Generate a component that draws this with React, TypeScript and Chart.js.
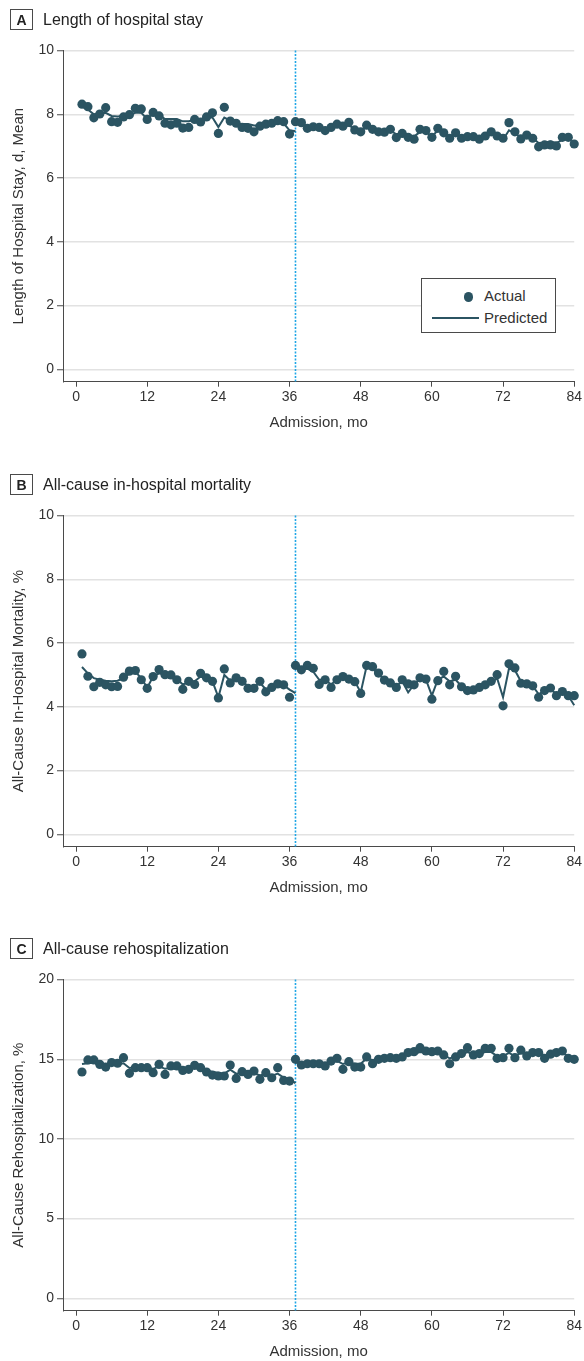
import React, { useEffect, useRef } from "react";
import { Chart, registerables } from "chart.js";

Chart.register(...registerables);

// ---------- data ----------
const MONTHS = Array.from({ length: 84 }, (_, i) => i + 1);
const X_TICKS = [0, 12, 24, 36, 48, 60, 72, 84];
const INTERVENTION_MONTH = 37;

const LOS_ACTUAL = [
  8.32, 8.24, 7.89, 8.01, 8.21, 7.77, 7.75, 7.92, 7.99, 8.19,
  8.17, 7.84, 8.06, 7.95, 7.72, 7.67, 7.72, 7.57, 7.59, 7.84,
  7.76, 7.92, 8.05, 7.4, 8.22, 7.79, 7.72, 7.59, 7.56, 7.45,
  7.63, 7.69, 7.72, 7.8, 7.77, 7.38, 7.77, 7.74, 7.56, 7.61,
  7.59, 7.49, 7.59, 7.69, 7.63, 7.75, 7.51, 7.45, 7.66, 7.53,
  7.45, 7.44, 7.53, 7.27, 7.4, 7.28, 7.22, 7.53, 7.49, 7.28,
  7.56, 7.42, 7.25, 7.42, 7.25, 7.3, 7.3, 7.22, 7.32, 7.45,
  7.32, 7.25, 7.74, 7.45, 7.23, 7.35, 7.25, 6.98, 7.04, 7.04,
  7.01, 7.28, 7.28, 7.07,
];
const LOS_PRED_PRE = [
  8.25, 8.15, 8.0, 8.02, 8.05, 7.95, 7.93, 7.95, 7.98, 8.05,
  8.05, 7.85, 8.05, 7.98, 7.85, 7.85, 7.85, 7.78, 7.78, 7.82,
  7.85, 7.9, 7.9, 7.6, 7.9, 7.8, 7.7, 7.7, 7.7, 7.65,
  7.65, 7.7, 7.72, 7.75, 7.72, 7.5, 7.47,
];
const LOS_PRED_POST = [
  7.78, 7.72, 7.62, 7.62, 7.6, 7.55, 7.58, 7.62, 7.63, 7.65,
  7.55, 7.45, 7.62, 7.55, 7.5, 7.48, 7.48, 7.38, 7.38, 7.35,
  7.3, 7.45, 7.45, 7.3, 7.5, 7.42, 7.32, 7.35, 7.32, 7.3,
  7.28, 7.25, 7.3, 7.38, 7.35, 7.2, 7.5, 7.4, 7.28, 7.28,
  7.25, 7.1, 7.12, 7.15, 7.1, 7.2, 7.25, 7.08,
];
const LOS_Y_TICKS = [0, 2, 4, 6, 8, 10];

const MORT_ACTUAL = [
  5.66, 4.96, 4.63, 4.77, 4.69, 4.63, 4.64, 4.93, 5.12, 5.14,
  4.85, 4.58, 4.95, 5.17, 5.01, 5.0, 4.85, 4.55, 4.8, 4.7,
  5.05, 4.91, 4.8, 4.28, 5.19, 4.75, 4.91, 4.8, 4.58, 4.58,
  4.8, 4.47, 4.61, 4.72, 4.69, 4.3, 5.3, 5.16, 5.3, 5.21,
  4.7, 4.85, 4.61, 4.85, 4.95, 4.87, 4.79, 4.42, 5.3, 5.26,
  5.06, 4.84, 4.75, 4.61, 4.85, 4.72, 4.69, 4.91, 4.87, 4.24,
  4.82, 5.11, 4.69, 4.96, 4.63, 4.51, 4.53, 4.61, 4.69, 4.8,
  5.01, 4.03, 5.35, 5.22, 4.74, 4.72, 4.66, 4.3, 4.51, 4.59,
  4.35, 4.48, 4.35, 4.35,
];
const MORT_PRED_PRE = [
  5.25, 5.05, 4.9, 4.85, 4.82, 4.8, 4.82, 4.9, 5.05, 5.1,
  4.9, 4.6, 4.95, 5.05, 5.0, 4.95, 4.88, 4.7, 4.78, 4.8,
  4.95, 4.88, 4.8, 4.3, 5.0, 4.82, 4.85, 4.8, 4.65, 4.62,
  4.75, 4.55, 4.6, 4.7, 4.68, 4.54, 4.43,
];
const MORT_PRED_POST = [
  5.25, 5.15, 5.2, 5.1, 4.85, 4.85, 4.7, 4.85, 4.9, 4.85,
  4.8, 4.45, 5.28, 5.2, 5.02, 4.85, 4.78, 4.65, 4.8, 4.45,
  4.7, 4.88, 4.85, 4.35, 4.85, 4.95, 4.8, 4.85, 4.65, 4.55,
  4.55, 4.6, 4.65, 4.75, 4.9, 4.3, 5.2, 5.15, 4.8, 4.72,
  4.65, 4.4, 4.5, 4.55, 4.4, 4.45, 4.35, 4.05,
];
const MORT_Y_TICKS = [0, 2, 4, 6, 8, 10];

const REHOSP_ACTUAL = [
  14.2, 14.96, 14.96, 14.68, 14.51, 14.79, 14.75, 15.1, 14.12, 14.47,
  14.47, 14.47, 14.16, 14.68, 14.05, 14.58, 14.58, 14.3, 14.37, 14.62,
  14.47, 14.2, 14.01, 13.95, 13.95, 14.64, 13.8, 14.22, 14.05, 14.26,
  13.74, 14.16, 13.84, 14.47, 13.67, 13.63, 15.0, 14.64, 14.72, 14.72,
  14.72, 14.58, 14.89, 15.06, 14.37, 14.85, 14.51, 14.51, 15.15, 14.72,
  15.0, 15.06, 15.1, 15.06, 15.15, 15.42, 15.48, 15.73, 15.52, 15.48,
  15.52, 15.27, 14.72, 15.15, 15.36, 15.73, 15.27, 15.36, 15.69, 15.69,
  15.06, 15.1, 15.69, 15.1, 15.57, 15.21, 15.42, 15.42, 15.06, 15.32,
  15.42, 15.52, 15.06, 15.0,
];
const REHOSP_PRED_PRE = [
  14.7, 14.75, 14.78, 14.7, 14.6, 14.65, 14.7, 14.75, 14.45, 14.5,
  14.5, 14.45, 14.4, 14.55, 14.4, 14.45, 14.5, 14.4, 14.4, 14.45,
  14.4, 14.3, 14.2, 14.15, 14.1, 14.35, 14.1, 14.15, 14.1, 14.1,
  14.0, 14.05, 13.95, 14.1, 13.85, 13.75, 13.5,
];
const REHOSP_PRED_POST = [
  14.8, 14.75, 14.72, 14.72, 14.72, 14.68, 14.8, 14.9, 14.7, 14.8,
  14.72, 14.72, 15.05, 14.95, 15.0, 15.05, 15.08, 15.1, 15.15, 15.3,
  15.35, 15.45, 15.4, 15.35, 15.4, 15.3, 15.05, 15.2, 15.3, 15.45,
  15.3, 15.35, 15.45, 15.45, 15.2, 15.2, 15.4, 15.2, 15.4, 15.3,
  15.35, 15.4, 15.25, 15.3, 15.35, 15.4, 15.2, 15.1,
];
const REHOSP_Y_TICKS = [0, 5, 10, 15, 20];

// ---------- style ----------
const FONT = "'Liberation Sans', Arial, sans-serif";
const MARK = "#2b5462";
const TEXT = "#333333";
const AXIS = "#4a4a4a";
const GRID = "#e2e2e2";
const VLINE = "#1fa6e6";

const W = 584;
const H = 440;

type PanelDef = {
  letter: string;
  title: string;
  yTitle: string;
  yTicks: number[];
  actual: number[];
  predPre: number[];
  predPost: number[];
  top: number;
  legend?: boolean;
};

const PANELS: PanelDef[] = [
  {
    letter: "A",
    title: "Length of hospital stay",
    yTitle: "Length of Hospital Stay, d, Mean",
    yTicks: LOS_Y_TICKS,
    actual: LOS_ACTUAL,
    predPre: LOS_PRED_PRE,
    predPost: LOS_PRED_POST,
    top: 0,
    legend: true,
  },
  {
    letter: "B",
    title: "All-cause in-hospital mortality",
    yTitle: "All-Cause In-Hospital Mortality, %",
    yTicks: MORT_Y_TICKS,
    actual: MORT_ACTUAL,
    predPre: MORT_PRED_PRE,
    predPost: MORT_PRED_POST,
    top: 465,
  },
  {
    letter: "C",
    title: "All-cause rehospitalization",
    yTitle: "All-Cause Rehospitalization, %",
    yTicks: REHOSP_Y_TICKS,
    actual: REHOSP_ACTUAL,
    predPre: REHOSP_PRED_PRE,
    predPost: REHOSP_PRED_POST,
    top: 929,
  },
];

const interventionLine = {
  id: "interventionLine",
  beforeDatasetsDraw(chart: any) {
    const { ctx, chartArea, scales } = chart;
    const x = scales.x.getPixelForValue(INTERVENTION_MONTH);
    ctx.save();
    ctx.strokeStyle = VLINE;
    ctx.lineWidth = 1.6;
    ctx.setLineDash([2, 1.5]);
    ctx.beginPath();
    ctx.moveTo(x, chartArea.top);
    ctx.lineTo(x, chartArea.bottom);
    ctx.stroke();
    ctx.restore();
  },
};

function buildConfig(p: PanelDef): any {
  const yMax = p.yTicks[p.yTicks.length - 1];
  const yMin = -0.389 * (yMax / 10);
  const actual = p.actual.map((y, i) => ({ x: MONTHS[i], y }));
  const pre = p.predPre.map((y, i) => ({ x: MONTHS[i], y }));
  const post = p.predPost.map((y, i) => ({ x: MONTHS[INTERVENTION_MONTH - 1 + i], y }));
  return {
    type: "line",
    data: {
      datasets: [
        {
          label: "Actual",
          data: actual,
          showLine: false,
          pointRadius: 4.6,
          pointBackgroundColor: MARK,
          pointBorderWidth: 0,
          pointBorderColor: MARK,
          clip: false,
        },
        {
          label: "Predicted",
          data: pre,
          borderColor: MARK,
          borderWidth: 2,
          pointRadius: 0,
          tension: 0,
          clip: false,
        },
        {
          label: "Predicted (post)",
          data: post,
          borderColor: MARK,
          borderWidth: 2,
          pointRadius: 0,
          tension: 0,
          clip: false,
        },
      ],
    },
    options: {
      animation: false,
      responsive: false,
      devicePixelRatio: 1,
      events: [],
      layout: { padding: { left: 0, right: 9, top: 50.6, bottom: 0 } },
      plugins: { legend: { display: false }, tooltip: { enabled: false }, title: { display: false } },
      scales: {
        x: {
          type: "linear",
          min: -2.2,
          max: 84,
          afterBuildTicks: (s: any) => {
            s.ticks = X_TICKS.map((v) => ({ value: v }));
          },
          afterFit: (s: any) => {
            s.height = H - 381.7;
          },
          grid: { drawOnChartArea: false, drawTicks: true, tickLength: 5, tickColor: AXIS, tickWidth: 1 },
          border: { display: true, color: AXIS, width: 1 },
          ticks: {
            color: TEXT,
            font: { family: FONT, size: 14 },
            padding: 2,
            maxRotation: 0,
            autoSkip: false,
            callback: (v: any) => String(v),
          },
          title: {
            display: true,
            text: "Admission, mo",
            color: TEXT,
            font: { family: FONT, size: 15 },
            padding: { top: 0, bottom: 8 },
          },
        },
        y: {
          type: "linear",
          min: yMin,
          max: yMax,
          afterBuildTicks: (s: any) => {
            s.ticks = p.yTicks.map((v) => ({ value: v }));
          },
          afterFit: (s: any) => {
            s.width = 63;
          },
          grid: { color: GRID, lineWidth: 1.5, drawTicks: true, tickLength: 6, tickColor: AXIS, tickWidth: 1 },
          border: { display: true, color: AXIS, width: 1 },
          ticks: {
            color: TEXT,
            font: { family: FONT, size: 14 },
            padding: 3,
            callback: (v: any) => String(v),
          },
          title: {
            display: true,
            text: p.yTitle,
            color: TEXT,
            font: { family: FONT, size: 15 },
            padding: { top: 10, bottom: 0 },
          },
        },
      },
    },
    plugins: [interventionLine],
  };
}

function Panel({ p }: { p: PanelDef }) {
  const ref = useRef<HTMLCanvasElement>(null);
  useEffect(() => {
    const chart = new Chart(ref.current as HTMLCanvasElement, buildConfig(p));
    return () => chart.destroy();
  }, []);
  return (
    <div style={{ position: "absolute", left: 0, top: p.top, width: W, height: H }}>
      <canvas ref={ref} width={W} height={H} style={{ position: "absolute", left: 0, top: 0 }} />
      <div
        style={{
          position: "absolute",
          left: 10,
          top: 9,
          width: 23,
          height: 21,
          boxSizing: "border-box",
          border: `1px solid ${AXIS}`,
          display: "flex",
          alignItems: "center",
          justifyContent: "center",
          fontFamily: FONT,
          fontWeight: "bold",
          fontSize: 14,
          color: "#222",
        }}
      >
        {p.letter}
      </div>
      <div
        style={{
          position: "absolute",
          left: 43,
          top: 9,
          height: 21,
          lineHeight: "21px",
          fontFamily: FONT,
          fontSize: 16,
          color: "#222",
          whiteSpace: "nowrap",
        }}
      >
        {p.title}
      </div>
      {p.legend && (
        <div
          style={{
            position: "absolute",
            left: 421,
            top: 278,
            width: 135,
            height: 55,
            boxSizing: "border-box",
            border: `1px solid ${AXIS}`,
            background: "#fff",
            fontFamily: FONT,
            fontSize: 15,
            color: TEXT,
          }}
        >
          <div
            style={{
              position: "absolute",
              left: 41.5,
              top: 13,
              width: 9.5,
              height: 9.5,
              borderRadius: "50%",
              background: MARK,
            }}
          />
          <div style={{ position: "absolute", left: 62, top: 8, lineHeight: "18px", whiteSpace: "nowrap" }}>Actual</div>
          <div
            style={{
              position: "absolute",
              left: 10,
              top: 38,
              width: 47,
              height: 2,
              background: MARK,
            }}
          />
          <div style={{ position: "absolute", left: 62, top: 29.5, lineHeight: "18px", whiteSpace: "nowrap" }}>
            Predicted
          </div>
        </div>
      )}
    </div>
  );
}

export default function App() {
  return (
    <div
      style={{
        position: "absolute",
        left: 0,
        top: 0,
        width: W,
        height: 1361,
        overflow: "hidden",
        background: "#fff",
      }}
    >
      {PANELS.map((p) => (
        <Panel key={p.letter} p={p} />
      ))}
    </div>
  );
}
